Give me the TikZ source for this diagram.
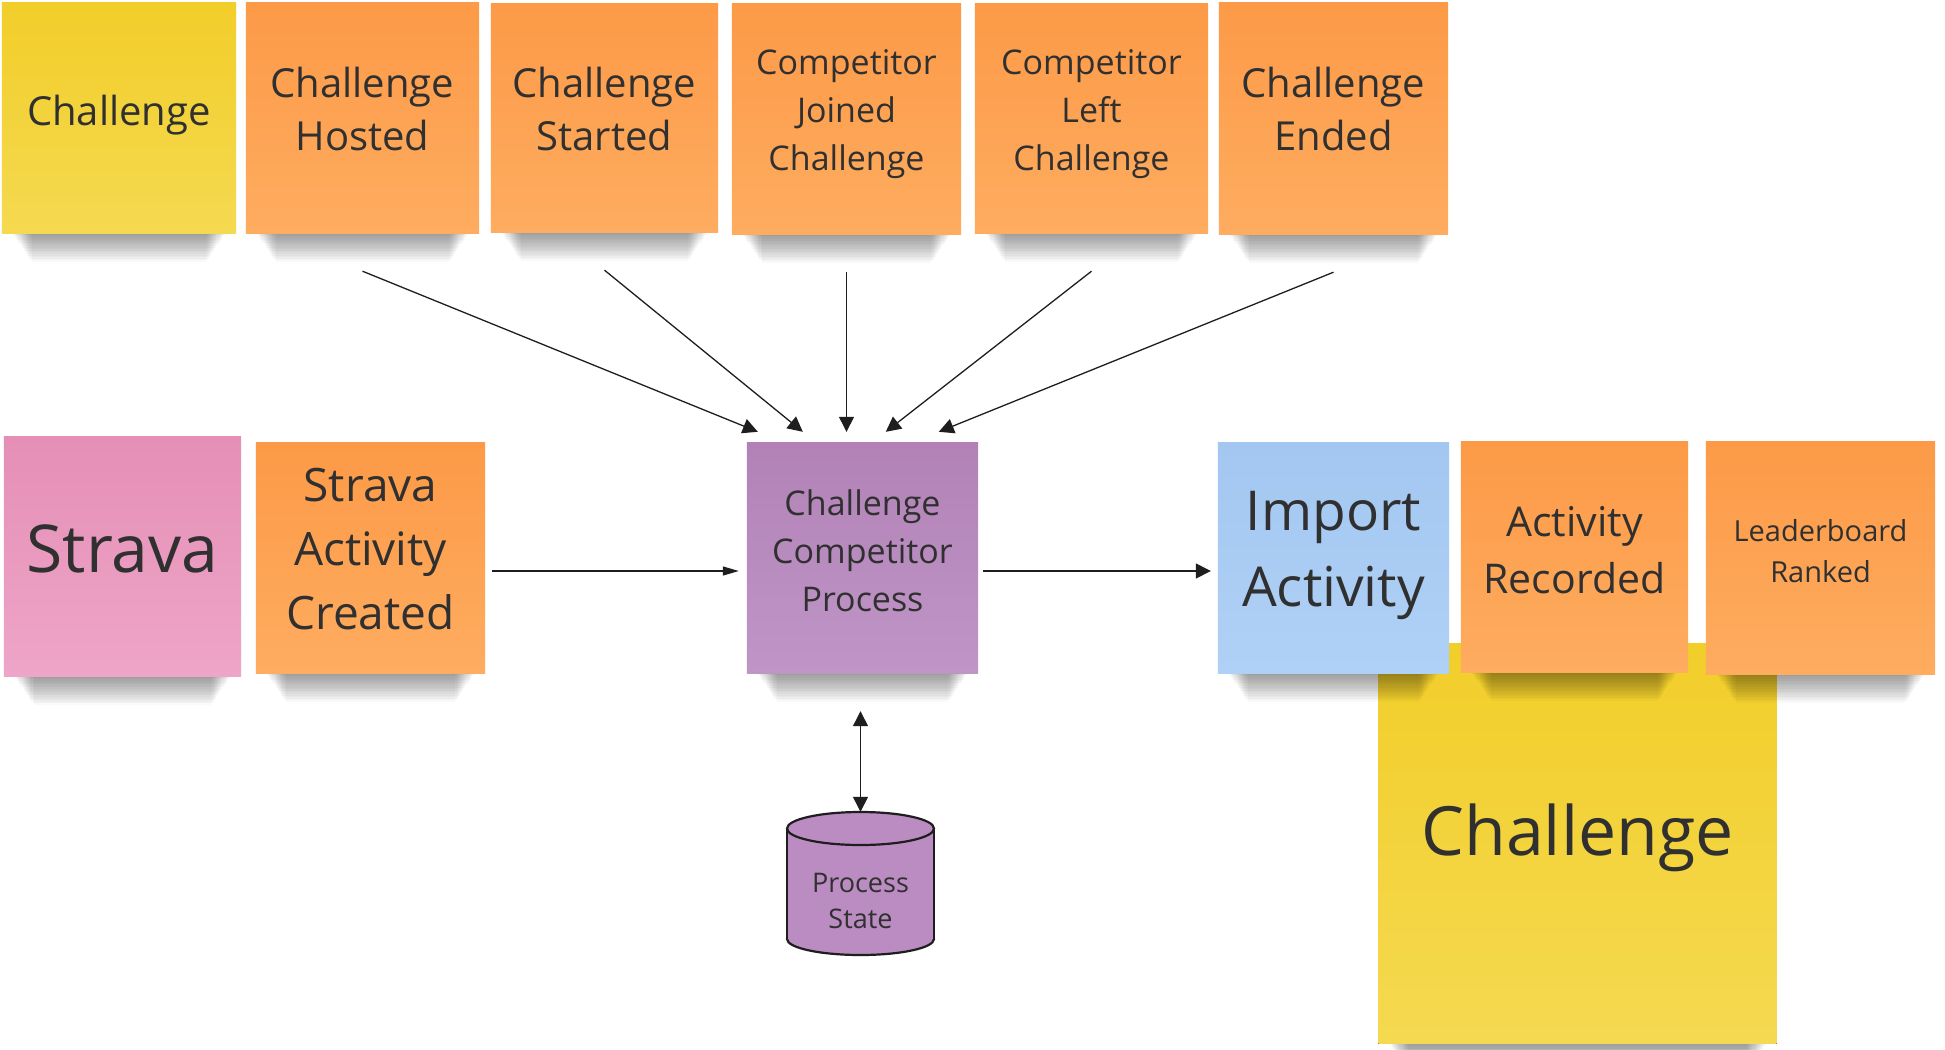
\documentclass[tikz,border=0pt]{standalone}
\usepackage{fontspec}
\setmainfont{Open Sans}
\usetikzlibrary{arrows.meta,calc}
\definecolor{ink}{HTML}{303030}
\definecolor{arrowc}{HTML}{1E1E1E}
\definecolor{yelT}{HTML}{F2CE2A}
\definecolor{yelB}{HTML}{F5D950}
\definecolor{orgT}{HTML}{FC9A47}
\definecolor{orgB}{HTML}{FEAC60}
\definecolor{pnkT}{HTML}{E58FB6}
\definecolor{pnkB}{HTML}{EEA5C8}
\definecolor{prpT}{HTML}{B282B7}
\definecolor{prpB}{HTML}{BF95C6}
\definecolor{bluT}{HTML}{A3C7F1}
\definecolor{bluB}{HTML}{B0D1F6}
\definecolor{cylfill}{HTML}{BB8CC1}
\newcommand\lgs{\vphantom{lg}}
\newcommand\nshadow[1]{\foreach \i in {1,...,18}{\fill[black, fill opacity=0.024] ([xshift={10+1.1*\i}]#1.south west) rectangle ([xshift={-10-1.1*\i},yshift={-1.6*\i}]#1.south east);}}
\begin{document}
\begin{tikzpicture}[x=1pt, y=-1pt,
  note/.style={rectangle, inner sep=0pt, draw=none},
  yel/.style={top color=yelT, bottom color=yelB},
  org/.style={top color=orgT, bottom color=orgB},
  pnk/.style={top color=pnkT, bottom color=pnkB},
  prp/.style={top color=prpT, bottom color=prpB},
  blu/.style={top color=bluT, bottom color=bluB},
  txt/.style={text=ink, align=center, inner sep=0pt},
  flow/.style={draw=arrowc, line width=1.3pt, -{Triangle[length=15pt,width=15pt]}},
  cylline/.style={draw=arrowc, line width=2.2pt},
]
\useasboundingbox (0,0) rectangle (1945,1049);
\fill[white] (0,0) rectangle (1945,1049);

% note frames
\path (119,118) node[note, minimum width=234pt, minimum height=230pt] (chal) {}
      (362.5,118) node[note, minimum width=233pt, minimum height=230pt] (hosted) {}
      (604.5,118) node[note, minimum width=227pt, minimum height=228pt] (started) {}
      (846.5,119) node[note, minimum width=229pt, minimum height=230pt] (joined) {}
      (1091.5,118.5) node[note, minimum width=233pt, minimum height=229pt] (left) {}
      (1333.5,118.5) node[note, minimum width=229pt, minimum height=231pt] (ended) {}
      (122.5,556.5) node[note, minimum width=237pt, minimum height=239pt] (strava) {}
      (370.5,558) node[note, minimum width=229pt, minimum height=230pt] (sac) {}
      (862.5,558) node[note, minimum width=231pt, minimum height=230pt] (proc) {}
      (1333.5,558) node[note, minimum width=231pt, minimum height=230pt] (import) {}
      (1574.5,557) node[note, minimum width=227pt, minimum height=230pt] (recorded) {}
      (1820.5,558) node[note, minimum width=229pt, minimum height=232pt] (leader) {}
      (1577.5,843.5) node[note, minimum width=398pt, minimum height=400pt] (bigchal) {};

% big challenge (behind)
\nshadow{bigchal}
\fill[yel] (bigchal.south west) rectangle (bigchal.north east);

% shadows
\nshadow{chal}\nshadow{hosted}\nshadow{started}\nshadow{joined}\nshadow{left}\nshadow{ended}
\nshadow{strava}\nshadow{sac}\nshadow{proc}\nshadow{import}\nshadow{recorded}\nshadow{leader}

% notes
\fill[yel] (chal.south west) rectangle (chal.north east);
\fill[org] (hosted.south west) rectangle (hosted.north east);
\fill[org] (started.south west) rectangle (started.north east);
\fill[org] (joined.south west) rectangle (joined.north east);
\fill[org] (left.south west) rectangle (left.north east);
\fill[org] (ended.south west) rectangle (ended.north east);
\fill[pnk] (strava.south west) rectangle (strava.north east);
\fill[org] (sac.south west) rectangle (sac.north east);
\fill[prp] (proc.south west) rectangle (proc.north east);
\fill[blu] (import.south west) rectangle (import.north east);
\fill[org] (recorded.south west) rectangle (recorded.north east);
\fill[org] (leader.south west) rectangle (leader.north east);

% texts
\node[txt, font={\fontsize{40}{53}\selectfont}] (chal-t) at (119,115.6) {\lgs Challenge};
\node[txt, font={\fontsize{40}{53}\selectfont}] (hosted-t) at (362.5,114) {\lgs Challenge\\Hosted\lgs};
\node[txt, font={\fontsize{40}{53}\selectfont}] (started-t) at (604.5,114) {\lgs Challenge\\Started\lgs};
\node[txt, font={\fontsize{34}{48}\selectfont}] (joined-t) at (846.5,114) {\lgs Competitor\\Joined\\Challenge\lgs};
\node[txt, font={\fontsize{34}{48}\selectfont}] (left-t) at (1091.5,114) {\lgs Competitor\\Left\\Challenge\lgs};
\node[txt, font={\fontsize{40}{53}\selectfont}] (ended-t) at (1333.5,114) {\lgs Challenge\\Ended\lgs};
\node[txt, font={\fontsize{66}{80}\selectfont}] (strava-t) at (122.5,555) {\lgs Strava};
\node[txt, font={\fontsize{46}{64}\selectfont}] (sac-t) at (370.5,554) {\lgs Strava\\Activity\\Created\lgs};
\node[txt, font={\fontsize{34}{48}\selectfont}] (proc-t) at (862.5,555) {\lgs Challenge\\Competitor\\Process\lgs};
\node[txt, font={\fontsize{55}{76}\selectfont}] (import-t) at (1333.5,554) {\lgs Import\\Activity\lgs};
\node[txt, font={\fontsize{41}{57}\selectfont}] (recorded-t) at (1574.5,554) {\lgs Activity\\Recorded\lgs};
\node[txt, font={\fontsize{29}{41}\selectfont}] (leader-t) at (1820.5,554) {\lgs Leaderboard\\Ranked\lgs};
\node[txt, font={\fontsize{68}{80}\selectfont}] (bigchal-t) at (1577.5,838) {\lgs Challenge};

% cylinder
\node[inner sep=0pt, minimum width=147pt, minimum height=143pt] (cyl) at (860.5,883.5) {};
\filldraw[cylline, fill=cylfill] (860.5,939) ellipse [x radius=73.5pt, y radius=16pt];
\fill[cylfill] (787,828.5) rectangle (934,939);
\draw[cylline] (787,828.5) -- (787,939) (934,828.5) -- (934,939);
\filldraw[cylline, fill=cylfill] (860.5,828.5) ellipse [x radius=73.5pt, y radius=16.5pt];
\node[txt, font={\fontsize{27}{36}\selectfont}] (cyl-t) at (860.5,903) {\lgs Process\\State\lgs};

% arrow targets
\coordinate (in1) at ($(proc.north west)+(11pt,11pt)$);
\coordinate (in2) at ($(proc.north west)+(56pt,11pt)$);
\coordinate (in3) at (joined.south |- in1);
\coordinate (in4) at ($(proc.north west)+(139pt,11pt)$);
\coordinate (in5) at ($(proc.north west)+(192pt,11pt)$);

\draw[flow] ([yshift=-38pt]hosted.south) -- (in1);
\draw[flow] ([yshift=-38pt]started.south) -- (in2);
\draw[flow] ([yshift=-38pt]joined.south) -- (in3);
\draw[flow] ([yshift=-38pt]left.south) -- (in4);
\draw[flow] ([yshift=-38pt]ended.south) -- (in5);

\draw[draw=arrowc, line width=1.3pt, -{Triangle[length=16pt,width=9pt]}, shorten <=7pt, shorten >=8pt]
  ([yshift=-13pt]sac.east) -- ([yshift=-13pt]proc.west);
\draw[flow, shorten <=5pt, shorten >=7pt]
  ([yshift=-13pt]proc.east) -- ([yshift=-13pt]import.west);
\draw[draw=arrowc, line width=1.3pt, {Triangle[length=15pt,width=15pt]}-{Triangle[length=15pt,width=15pt]}, shorten <=38pt]
  (cyl.north |- proc.south) -- (cyl.north);
\end{tikzpicture}
\end{document}
